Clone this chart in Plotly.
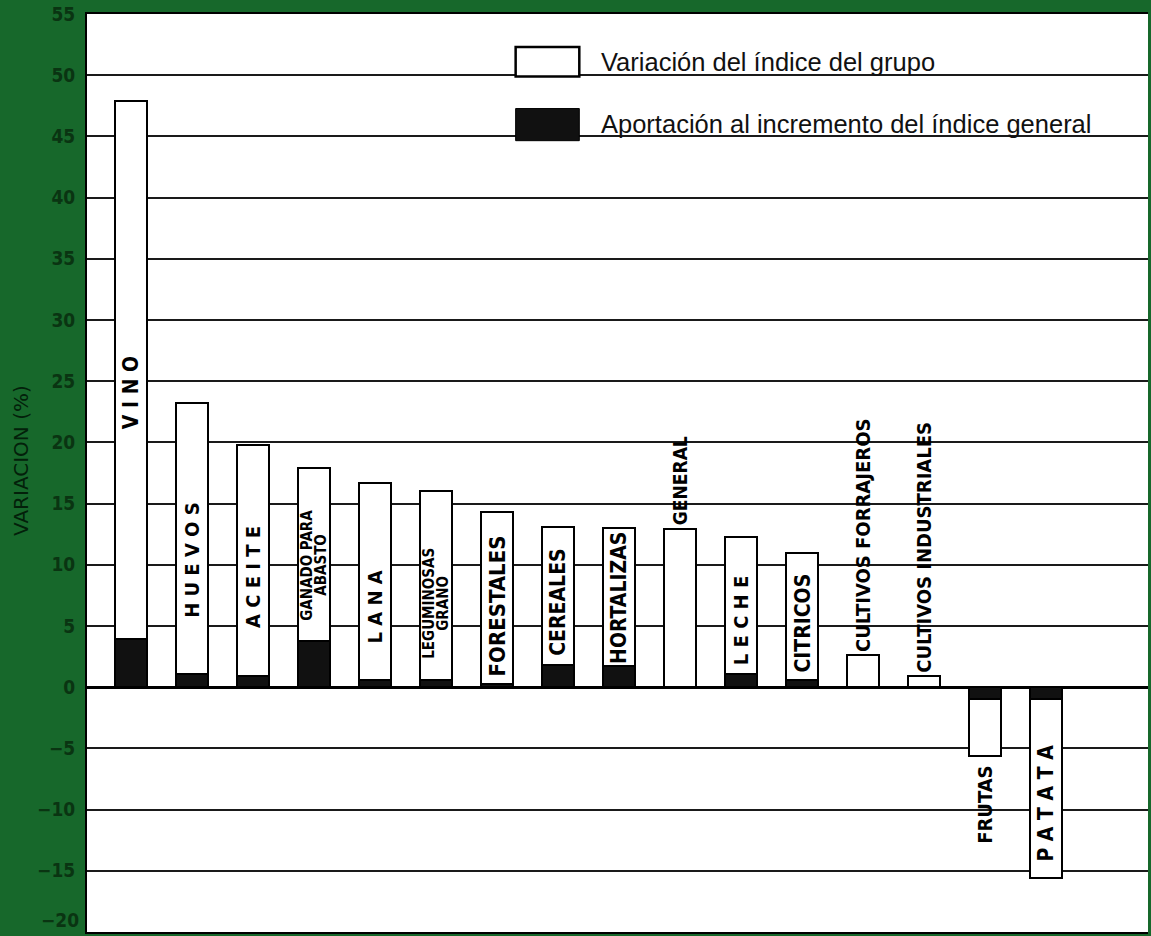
import plotly.graph_objects as go

categories = ["VINO", "HUEVOS", "ACEITE", "GANADO PARA ABASTO", "LANA",
              "LEGUMINOSAS GRANO", "FORESTALES", "CEREALES", "HORTALIZAS",
              "GENERAL", "LECHE", "CITRICOS", "CULTIVOS FORRAJEROS",
              "CULTIVOS INDUSTRIALES", "FRUTAS", "PATATA"]
variacion_grupo = [47.9, 23.2, 19.8, 17.9, 16.7, 16.0, 14.3, 13.1, 13.0,
                   12.95, 12.3, 11.0, 2.6, 0.9, -5.6, -15.6]
aportacion = [3.9, 1.1, 0.9, 3.8, 0.6, 0.6, 0.25, 1.8, 1.7,
              0.0, 1.1, 0.6, 0.0, 0.0, -1.0, -1.0]
y_ticks = list(range(-20, 56, 5))
y_tick_text = [("\u2212" + str(-v)) if v < 0 else str(v) for v in y_ticks]

# label display text (lines) and placement (mode, y-centre for inside labels, font size)
label_lines = [["V I N O"], ["H U E V O S"], ["A C E I T E"], ["GANADO PARA", "ABASTO"],
               ["L A N A"], ["LEGUMINOSAS", "GRANO"], ["FORESTALES"], ["CEREALES"],
               ["HORTALIZAS"], ["GENERAL"], ["L E C H E"], ["CITRICOS"],
               ["CULTIVOS FORRAJEROS"], ["CULTIVOS INDUSTRIALES"], ["FRUTAS"], ["P A T A T A"]]
label_mode = ["in", "in", "in", "in", "in", "in", "in", "in", "in",
              "above", "in", "in", "above", "above", "below", "in"]
label_y = [24.1, 10.4, 9.0, 10.0, 6.6, 6.9, 6.6, 6.9, 7.3,
           None, 5.4, 5.2, None, None, None, -9.5]
label_size = [21, 20, 20, 15, 20, 15, 22, 21, 21, 19, 20, 21, 20, 20, 20, 21]

GREEN = "#17682b"
DARK = "#0a3412"
FONT = "Liberation Sans Narrow, DejaVu Sans Condensed, Liberation Sans, Arial"

x = list(range(len(categories)))

fig = go.Figure()
fig.add_trace(go.Bar(
    x=x, y=variacion_grupo, width=0.52,
    marker=dict(color="white", line=dict(color="black", width=2)),
    name="Variación del índice del grupo", showlegend=False))
fig.add_trace(go.Bar(
    x=x, y=aportacion, width=0.52,
    marker=dict(color="#111111", line=dict(color="black", width=2)),
    name="Aportación al incremento del índice general", showlegend=False))

annotations = []
for i, (lines, m, ly, fs) in enumerate(zip(label_lines, label_mode, label_y, label_size)):
    n = len(lines)
    for k, t in enumerate(lines):
        xs = (k - (n - 1) / 2) * 14
        f = dict(family=FONT, size=fs, color="black", weight="bold")
        if m == "in":
            annotations.append(dict(x=i, y=ly, text=t, textangle=-90, showarrow=False, font=f,
                                    xanchor="center", yanchor="middle", xshift=xs))
        elif m == "above":
            annotations.append(dict(x=i, y=variacion_grupo[i], text=t, textangle=-90,
                                    showarrow=False, font=f, xanchor="center",
                                    yanchor="bottom", yshift=1, xshift=xs))
        else:
            annotations.append(dict(x=i, y=variacion_grupo[i], text=t, textangle=-90,
                                    showarrow=False, font=f, xanchor="center",
                                    yanchor="top", yshift=-8, xshift=xs))

# bottom tick label (sits on the lower edge of the plot)
annotations.append(dict(xref="paper", yref="y", x=0, y=y_ticks[0], text=y_tick_text[0],
                        showarrow=False, xanchor="right", yanchor="bottom", xshift=-6, yshift=-1,
                        font=dict(family=FONT, size=19, color=DARK, weight="bold")))

# y-axis title
annotations.append(dict(xref="paper", yref="y", x=-0.062, y=18.5, text="VARIACION (%)",
                        textangle=-90, showarrow=False, xanchor="center", yanchor="middle",
                        font=dict(family="DejaVu Sans, Liberation Sans", size=20,
                                  color="#03200a")))

# legend (manual)
LEG_FONT = dict(family="Liberation Sans, Arial", size=25.5, color="#111111")
annotations.append(dict(xref="paper", yref="paper", x=0.4828, y=0.9475,
                        text="Variación del índice del grupo", showarrow=False,
                        xanchor="left", yanchor="middle", font=LEG_FONT))
annotations.append(dict(xref="paper", yref="paper", x=0.4828, y=0.8800,
                        text="Aportación al incremento del índice general", showarrow=False,
                        xanchor="left", yanchor="middle", font=LEG_FONT))

shapes = [
    # white block hiding gridlines behind the legend
    dict(type="rect", xref="paper", yref="paper", x0=0.377, x1=1.0, y0=0.843, y1=0.998,
         fillcolor="white", line=dict(width=0), layer="between"),
    dict(type="rect", xref="paper", yref="paper", x0=0.404, x1=0.464, y0=0.932, y1=0.964,
         fillcolor="white", line=dict(color="black", width=2.5), layer="above"),
    dict(type="rect", xref="paper", yref="paper", x0=0.404, x1=0.464, y0=0.862, y1=0.897,
         fillcolor="#111111", line=dict(color="black", width=1), layer="above"),
]

fig.update_layout(
    width=1151, height=936,
    margin=dict(l=87, r=3, t=14, b=4),
    paper_bgcolor=GREEN, plot_bgcolor="white",
    barmode="overlay", bargap=0,
    showlegend=False,
    annotations=annotations, shapes=shapes,
    xaxis=dict(range=[-0.72, 16.67], showticklabels=False, showgrid=False,
               zeroline=False, showline=True, linecolor="black", linewidth=2, mirror=True,
               fixedrange=True),
    yaxis=dict(range=[-20, 55], tickvals=y_ticks, ticktext=y_tick_text, ticks="",
               showgrid=True, gridcolor="#1a1a1a", gridwidth=1.5,
               zeroline=True, zerolinecolor="black", zerolinewidth=3,
               showline=True, linecolor="black", linewidth=2,
               tickfont=dict(family=FONT, size=19, color=DARK, weight="bold"),
               ticklabelstandoff=6),
)

fig.write_html("out.html", config={"displayModeBar": False},
               post_script="document.body.style.margin='0';document.body.style.background='" + GREEN + "';")
